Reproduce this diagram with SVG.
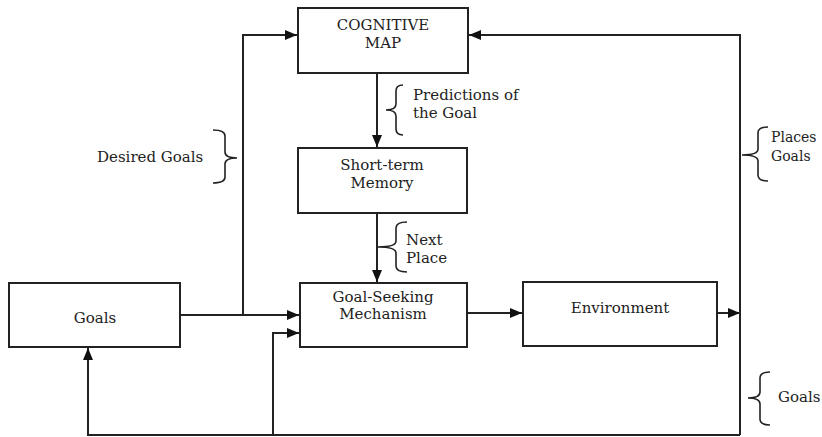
<svg xmlns="http://www.w3.org/2000/svg" width="822" height="437" viewBox="0 0 822 437">
<style>
.box{fill:#fff;stroke:#222;stroke-width:2}
.ln{fill:none;stroke:#222;stroke-width:2}
.br{fill:none;stroke:#222;stroke-width:1.6}
text{font-family:"DejaVu Serif","Liberation Serif",serif;font-size:15px;fill:#222}
.c{text-anchor:middle}
.sm{font-size:14px}
</style>
<defs>
<marker id="ah" viewBox="0 0 12 10" refX="12" refY="5" markerWidth="12" markerHeight="10" markerUnits="userSpaceOnUse" orient="auto">
<path d="M0,0 L12,5 L0,10 Z" fill="#111"/>
</marker>
</defs>
<g id="connectors">
<path class="ln" d="M180,315 L299,315" marker-end="url(#ah)"/>
<path class="ln" d="M243,315 L243,35 L297,35" marker-end="url(#ah)"/>
<path class="ln" d="M377,73 L377,147" marker-end="url(#ah)"/>
<path class="ln" d="M377,213 L377,282" marker-end="url(#ah)"/>
<path class="ln" d="M467,313 L522,313" marker-end="url(#ah)"/>
<path class="ln" d="M717,313 L740,313" marker-end="url(#ah)"/>
<path class="ln" d="M740,435 L740,35 L469,35" marker-end="url(#ah)"/>
<path class="ln" d="M740,435 L88,435 L88,348" marker-end="url(#ah)"/>
<path class="ln" d="M273,435 L273,333 L299,333" marker-end="url(#ah)"/>
</g>
<g id="braces">
<path class="br" d="M403,85 Q396,85 396,91 L396,104 Q396,110 386,110 Q396,110 396,116 L396,129 Q396,135 403,135"/>
<path class="br" d="M407,222 Q396,222 396,228 L396,241 Q396,247 378,247 Q396,247 396,253 L396,266 Q396,272 407,272"/>
<path class="br" d="M213,130 Q225,130 225,136 L225,152 Q225,158 237,158 Q225,158 225,164 L225,177 Q225,183 213,183"/>
<path class="br" d="M768,127 Q758,127 758,133 L758,149 Q758,155 742,155 Q758,155 758,161 L758,175 Q758,181 768,181"/>
<path class="br" d="M770,372 Q760,372 760,378 L760,392 Q760,398 748,398 Q760,398 760,404 L760,419 Q760,425 770,425"/>
</g>
<g id="cogmap">
<rect class="box" x="298" y="8" width="170" height="65"/>
<text class="c" x="383" y="30">COGNITIVE</text>
<text class="c" x="383" y="48">MAP</text>
</g>
<g id="stm">
<rect class="box" x="298" y="148" width="169" height="65"/>
<text class="c" x="382" y="170">Short-term</text>
<text class="c" x="382" y="188">Memory</text>
</g>
<g id="goals">
<rect class="box" x="9" y="283" width="171" height="64"/>
<text class="c" x="95" y="323">Goals</text>
</g>
<g id="gsm">
<rect class="box" x="300" y="283" width="167" height="64"/>
<text class="c" x="383" y="302">Goal-Seeking</text>
<text class="c" x="383" y="319">Mechanism</text>
</g>
<g id="env">
<rect class="box" x="523" y="282" width="194" height="64"/>
<text class="c" x="620" y="313">Environment</text>
</g>
<g id="labels">
<text x="413" y="100">Predictions of</text>
<text x="413" y="118">the Goal</text>
<text x="406" y="245">Next</text>
<text x="406" y="263">Place</text>
<text x="97" y="162">Desired Goals</text>
<text class="sm" x="771" y="142">Places</text>
<text class="sm" x="771" y="161">Goals</text>
<text x="778" y="402">Goals</text>
</g>
</svg>
